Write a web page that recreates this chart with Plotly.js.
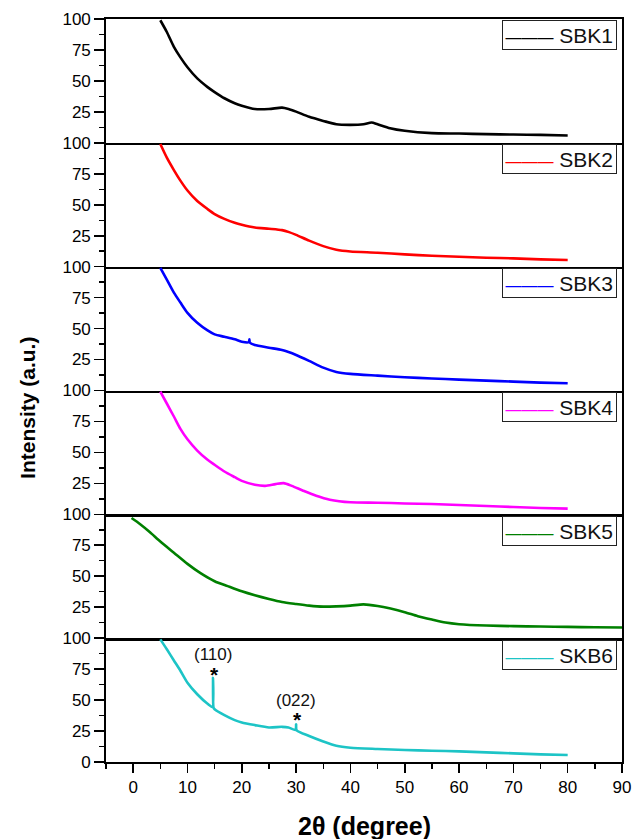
<!DOCTYPE html>
<html>
<head>
<meta charset="utf-8">
<script src="https://cdn.plot.ly/plotly-3.0.1.min.js"></script>
<style>html,body{margin:0;padding:0;background:#fff;}#chart{width:644px;height:839px;}</style>
</head>
<body>
<div id="chart"></div>
<script>
// ---- data ----
const names = ['SBK1', 'SBK2', 'SBK3', 'SBK4', 'SBK5', 'SKB6'];
const colors = ['#000000', '#FF0000', '#0000FF', '#FF00FF', '#008000', '#1DC4C6'];

const x1 = [5, 6.2, 7.5, 8.7, 10, 11.8, 13.7, 15, 16.8, 18.7, 20, 22.4, 25, 27.4, 28.6, 30, 32.4, 35, 37.4, 40, 42.4, 43.9, 45, 47.3, 50, 55, 60, 65, 70, 75, 80];
const y1 = [99, 89.5, 77.5, 69, 61, 52, 45, 41, 36, 32, 30, 27.3, 27.3, 28.4, 27.3, 25.2, 21, 17.7, 15, 14.5, 15, 16.4, 15, 11.8, 9.7, 7.8, 7.5, 7, 6.7, 6.4, 5.9];

const x2 = [5, 6.2, 7.5, 8.7, 10, 11.8, 13.7, 15, 16.8, 18.7, 20, 22.4, 25, 27.4, 28.7, 30, 32.4, 35, 37.4, 40, 45, 50, 55, 60, 65, 70, 75, 80];
const y2 = [99, 88, 78, 69.5, 61.5, 53, 46.5, 42.5, 38.6, 35.4, 33.8, 31.6, 30.6, 29.5, 27.9, 25.7, 21, 16.6, 13.7, 12.3, 11.3, 9.9, 8.8, 8, 7.2, 6.7, 5.9, 5.4];

const x3 = [5, 6.2, 7.5, 8.7, 10, 11.8, 13.7, 15, 16.8, 18.7, 20, 21.3, 21.4, 21.5, 22.4, 25, 27.4, 28.6, 30, 32.4, 35, 37.4, 40, 45, 50, 55, 60, 65, 70, 75, 80];
const y3 = [99, 89.5, 79, 71, 62.7, 54.7, 48.5, 45.3, 43.4, 41.3, 39.4, 39.1, 41.3, 38.5, 36.7, 34.6, 32.7, 31.1, 28.7, 23.9, 18.5, 15, 13.4, 12, 10.7, 9.7, 8.8, 8, 7.2, 6.4, 5.9];

const x4 = [5, 6.2, 7.5, 8.7, 10, 11.8, 13.7, 15, 16.8, 18.7, 20, 22.4, 24.3, 26.2, 27.7, 29.2, 31.2, 33.7, 36.2, 40, 45, 50, 55, 60, 65, 70, 75, 80];
const y4 = [99, 89.5, 79, 69, 60.6, 51.5, 44, 40, 34.6, 30, 27, 23.9, 23, 24.4, 25.2, 23, 19.3, 15, 11.8, 9.7, 9.4, 8.8, 8.3, 7.5, 6.7, 5.9, 5.1, 4.6];

const x5 = [-0.3, 1.3, 3.1, 5, 7.5, 10, 12.4, 15, 17.4, 20, 22.4, 25, 27.4, 30, 32.4, 35, 37.4, 40, 42.4, 45, 47.4, 50, 52.4, 55, 57.5, 60, 65, 70, 75, 80, 85, 90];
const y5 = [97, 92, 85.5, 78, 69, 60, 52.5, 46, 42, 37.8, 34.6, 31.6, 29.2, 27.6, 26.3, 25.5, 25.7, 26.3, 27.3, 26, 23.9, 21, 17.7, 15, 12.6, 11.3, 10.2, 9.7, 9.4, 9.1, 8.8, 8.6];

const x6 = [5, 6.2, 7.5, 8.7, 10, 11.8, 13.7, 14.6, 14.7, 14.8, 15, 16.8, 18.7, 20, 22.4, 25, 27.4, 28.6, 29.9, 30, 30.1, 32.4, 35, 37.4, 40, 45, 50, 55, 60, 65, 70, 75, 80];
const y6 = [99, 91, 82, 73.7, 64, 54.7, 47, 44.5, 68, 43.8, 42.6, 37.8, 33.8, 31.9, 29.8, 27.9, 28.4, 27.9, 25.9, 30.5, 25.6, 21, 16.6, 13.1, 11.5, 10.5, 9.7, 9.1, 8.6, 7.8, 7, 6.2, 5.6];

const xs = [x1, x2, x3, x4, x5, x6];
const ys = [y1, y2, y3, y4, y5, y6];

const xTickVals = [0, 10, 20, 30, 40, 50, 60, 70, 80, 90];
const yTickVals = [0, 25, 50, 75, 100];
const peakLabels = ['(110)', '(022)'];
const peakX = [14.7, 30.0];
const peakLabelY = [87, 50];
const starY = [71, 34];

// ---- figure ----
const N = 6;
const plotTop = 19, plotBottom = 762;
const plotH = plotBottom - plotTop;
const traces = [];
const layout = {
  width: 644, height: 839,
  margin: {l: 106, r: 22, t: 19, b: 77},
  paper_bgcolor: '#fff', plot_bgcolor: '#fff',
  font: {family: 'Liberation Sans, Arial, sans-serif', color: '#000'},
  showlegend: false,
  annotations: [],
};

for (let i = 0; i < N; i++) {
  const k = i + 1;
  const suf = k === 1 ? '' : String(k);
  traces.push({
    x: xs[i], y: ys[i], name: names[i], type: 'scatter', mode: 'lines',
    line: {color: colors[i], width: 2.6, shape: 'spline', smoothing: 0.7},
    xaxis: 'x' + suf, yaxis: 'y' + suf,
    hoverinfo: 'skip'
  });
  const d0 = 1 - k / N, d1 = 1 - i / N;
  const isBottom = k === N;
  const xa = {
    anchor: 'y' + suf, range: [-5, 90],
    showline: true, mirror: k === 1 ? true : false, linecolor: '#000',
    linewidth: (k === 1 || isBottom) ? 1.8 : 2.4,
    showgrid: false, zeroline: false,
    ticks: isBottom ? 'outside' : '', ticklen: 9, tickwidth: 1.6, tickcolor: '#000',
    tickvals: xTickVals, showticklabels: isBottom,
    tickfont: {size: 17, color: '#000'},
    fixedrange: true
  };
  if (k !== 1) xa.matches = 'x';
  if (isBottom) xa.minor = {tickmode: 'linear', tick0: -5, dtick: 10, ticks: 'outside', ticklen: 5, tickwidth: 1.4, tickcolor: '#000'};
  layout['xaxis' + suf] = xa;
  layout['yaxis' + suf] = {
    anchor: 'x' + suf, domain: [d0, d1], range: [0, 100],
    showline: true, mirror: true, linecolor: '#000', linewidth: 1.8,
    showgrid: false, zeroline: false,
    ticks: 'outside', ticklen: 10, tickwidth: 1.6, tickcolor: '#000',
    tickvals: yTickVals,
    ticktext: yTickVals.map(v => (v === 0 && !isBottom) ? '' : String(v)),
    tickfont: {size: 17, color: '#000'},
    minor: {tickvals: [12.5, 37.5, 62.5, 87.5], ticks: 'outside', ticklen: 5, tickwidth: 1.4, tickcolor: '#000'},
    fixedrange: true
  };
  // legend box for this panel (sample line + name)
  layout.annotations.push({
    xref: 'paper', yref: 'paper', x: 0.991, xanchor: 'right',
    y: d1 - 1.5 / plotH, yanchor: 'top',
    text: '<span style="color:' + colors[i] + ';font-size:16px">———</span>&nbsp;' + names[i],
    showarrow: false, bgcolor: '#fff', bordercolor: '#222', borderwidth: 1, borderpad: 2.5,
    font: {size: 21, color: '#111'}
  });
}

// axis titles
layout.annotations.push({
  xref: 'paper', yref: 'paper', x: -0.152, y: 0.476, xanchor: 'center', yanchor: 'middle',
  text: '<b>Intensity (a.u.)</b>', textangle: -90, showarrow: false,
  font: {size: 21, color: '#000'}
});
layout.annotations.push({
  xref: 'paper', yref: 'paper', x: 0.5, y: -(826 - plotBottom) / plotH,
  xanchor: 'center', yanchor: 'middle',
  text: '<b>2θ (degree)</b>', showarrow: false,
  font: {size: 25, color: '#000'}
});
// peak labels in SKB6 panel
for (let j = 0; j < peakLabels.length; j++) {
  layout.annotations.push({
    xref: 'x6', yref: 'y6', x: peakX[j], y: peakLabelY[j], text: peakLabels[j],
    showarrow: false, font: {size: 17, color: '#111'}
  });
  layout.annotations.push({
    xref: 'x6', yref: 'y6', x: peakX[j] + 0.2, y: starY[j], text: '<b>*</b>',
    showarrow: false, font: {size: 21, color: '#000'}
  });
}

Plotly.newPlot('chart', traces, layout, {staticPlot: true, displayModeBar: false});
</script>
</body>
</html>
